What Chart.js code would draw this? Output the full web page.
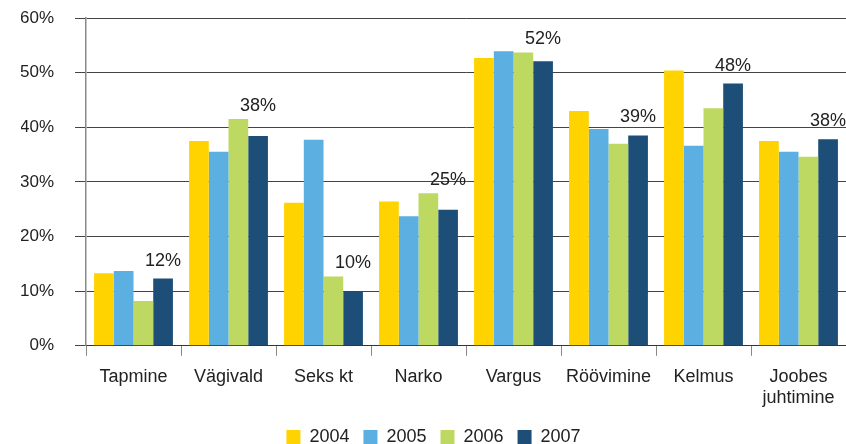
<!DOCTYPE html>
<html>
<head>
<meta charset="utf-8">
<script src="https://cdn.jsdelivr.net/npm/chart.js@4/dist/chart.umd.min.js"></script>
<style>
  body { margin: 0; background: #fff; }
  #wrap { width: 846px; height: 444px; }
</style>
</head>
<body>
<div id="wrap"><canvas id="crimeChart"></canvas></div>
<script>
// Categories and yearly shares (percent)
const categories = ['Tapmine', 'Vägivald', 'Seks kt', 'Narko', 'Vargus', 'Röövimine', 'Kelmus', ['Joobes', 'juhtimine']];
const years = ['2004', '2005', '2006', '2007'];
const values2004 = [13.3, 37.5, 26.2, 26.4, 52.7, 43.0, 50.4, 37.5];
const values2005 = [13.7, 35.5, 37.7, 23.7, 53.9, 39.7, 36.6, 35.5];
const values2006 = [8.2, 41.5, 12.7, 27.9, 53.7, 37.0, 43.5, 34.6];
const values2007 = [12.3, 38.4, 10.0, 24.9, 52.1, 38.5, 48.0, 37.8];
const labels2007 = ['12%', '38%', '10%', '25%', '52%', '39%', '48%', '38%'];
const yTicks = [0, 10, 20, 30, 40, 50, 60];

const colors = ['#FFD300', '#5BAFE1', '#BED962', '#1C4E77'];
const fontFamily = '"Liberation Sans", Arial, sans-serif';

// Draws the 2007 value above its bar, lifted above the 2006 bar when they collide
const topLabels = {
    id: 'topLabels',
    afterDatasetsDraw(chart) {
        const ctx = chart.ctx;
        const darkMeta = chart.getDatasetMeta(3);
        const greenMeta = chart.getDatasetMeta(2);
        ctx.save();
        ctx.font = '18px ' + fontFamily;
        ctx.fillStyle = '#222';
        ctx.textAlign = 'center';
        ctx.textBaseline = 'alphabetic';
        darkMeta.data.forEach((bar, i) => {
            const green = greenMeta.data[i];
            const y = Math.min(bar.y - 13, green.y - 8);
            ctx.fillText(labels2007[i], bar.x, y);
        });
        ctx.restore();
    }
};

const ctx = document.getElementById('crimeChart').getContext('2d');
new Chart(ctx, {
    type: 'bar',
    data: {
        labels: categories,
        datasets: [values2004, values2005, values2006, values2007].map((vals, i) => ({
            label: years[i],
            data: vals,
            backgroundColor: colors[i],
            borderWidth: 0,
            categoryPercentage: 0.83,
            barPercentage: 1.0
        }))
    },
    options: {
        responsive: true,
        maintainAspectRatio: false,
        animation: false,
        layout: { padding: { top: 18, right: 0, left: 21, bottom: -12 } },
        scales: {
            x: {
                afterFit(scale) {
                    scale.height -= 5;
                },
                grid: {
                    offset: true,
                    drawOnChartArea: false,
                    color: '#888',
                    tickLength: 10
                },
                border: { color: '#333', width: 1 },
                ticks: {
                    color: '#222',
                    padding: 10,
                    font: { family: fontFamily, size: 18 },
                    maxRotation: 0,
                    autoSkip: false
                }
            },
            y: {
                min: 0,
                max: 60,
                afterBuildTicks(scale) {
                    scale.ticks = yTicks.map(v => ({ value: v }));
                },
                afterFit(scale) {
                    scale.width = 65;
                    scale.paddingTop = 0;
                    scale.paddingBottom = 0;
                },
                grid: {
                    color: '#444',
                    lineWidth: 1,
                    tickLength: 11
                },
                border: { color: '#8a8a8a', width: 1.5 },
                ticks: {
                    color: '#222',
                    padding: 21,
                    font: { family: fontFamily, size: 17 },
                    callback: v => v + '%'
                }
            }
        },
        plugins: {
            legend: {
                position: 'bottom',
                labels: {
                    boxWidth: 14,
                    boxHeight: 14,
                    padding: 14,
                    color: '#222',
                    font: { family: fontFamily, size: 18 }
                }
            },
            tooltip: { enabled: false }
        }
    },
    plugins: [topLabels]
});
</script>
</body>
</html>
